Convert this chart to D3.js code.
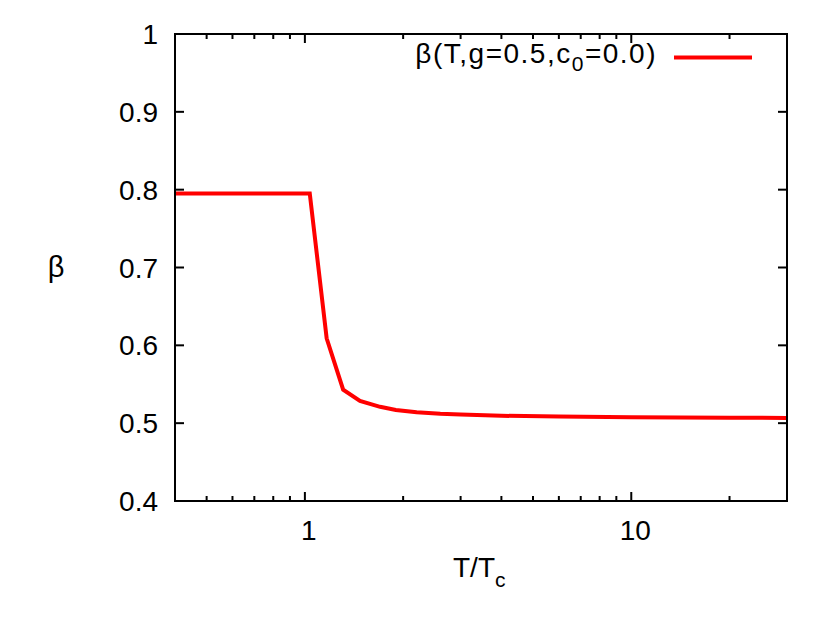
<!DOCTYPE html>
<html>
<head>
<meta charset="utf-8">
<script src="https://cdn.jsdelivr.net/npm/d3@7"></script>
<style>
  body { margin: 0; background: #fff; }
  svg text { font-family: "Liberation Sans", Arial, sans-serif; fill: #000; }
</style>
</head>
<body>
<svg id="chart" width="830" height="623"></svg>
<script>
// values
var tValues    = [0.4, 1.035, 1.166, 1.31, 1.475, 1.70, 1.9, 2.2, 2.6, 3.0, 4.0, 6.0, 10.0, 20.0, 30.0];
var betaValues = [0.795, 0.795, 0.609, 0.543, 0.5285, 0.521, 0.517, 0.514, 0.512, 0.511, 0.5095, 0.5085, 0.5077, 0.507, 0.5067];
var yTicks = [0.4, 0.5, 0.6, 0.7, 0.8, 0.9, 1];
var xMajor = [1, 10];
var xMinor = [0.4, 0.5, 0.6, 0.7, 0.8, 0.9, 2, 3, 4, 5, 6, 7, 8, 9, 20, 30];

const margin = {left: 175, top: 34, right: 787, bottom: 501};
const svg = d3.select("#chart");

const x = d3.scaleLog().domain([0.4, 30]).range([margin.left, margin.right]);
const y = d3.scaleLinear().domain([0.4, 1]).range([margin.bottom, margin.top]);

// curve
const line = d3.line().x((d, i) => x(tValues[i])).y(d => y(d));
svg.append("path")
    .datum(betaValues)
    .attr("d", line)
    .attr("fill", "none")
    .attr("stroke", "#ff0000")
    .attr("stroke-width", 4)
    .attr("stroke-linejoin", "miter");

// ticks (inward, mirrored)
const tk = svg.append("g").attr("stroke", "#000").attr("stroke-width", 2);
yTicks.forEach(v => {
    tk.append("line").attr("x1", margin.left).attr("x2", margin.left + 9).attr("y1", y(v)).attr("y2", y(v));
    tk.append("line").attr("x1", margin.right).attr("x2", margin.right - 9).attr("y1", y(v)).attr("y2", y(v));
});
xMajor.forEach(v => {
    tk.append("line").attr("x1", x(v)).attr("x2", x(v)).attr("y1", margin.bottom).attr("y2", margin.bottom - 9);
    tk.append("line").attr("x1", x(v)).attr("x2", x(v)).attr("y1", margin.top).attr("y2", margin.top + 9);
});
xMinor.filter(v => v > 0.4 && v < 30).forEach(v => {
    tk.append("line").attr("x1", x(v)).attr("x2", x(v)).attr("y1", margin.bottom).attr("y2", margin.bottom - 5);
    tk.append("line").attr("x1", x(v)).attr("x2", x(v)).attr("y1", margin.top).attr("y2", margin.top + 5);
});

// frame
svg.append("rect")
    .attr("x", margin.left).attr("y", margin.top)
    .attr("width", margin.right - margin.left).attr("height", margin.bottom - margin.top)
    .attr("fill", "none").attr("stroke", "#000").attr("stroke-width", 2);

// tick labels
svg.selectAll(".ylab").data(yTicks).enter().append("text")
    .attr("class", "ylab")
    .attr("x", 158).attr("y", d => y(d)).attr("dy", "0.36em")
    .attr("text-anchor", "end").attr("font-size", 28)
    .text(d => d === 1 ? "1" : d3.format(".1f")(d));

svg.selectAll(".xlab").data(xMajor).enter().append("text")
    .attr("class", "xlab")
    .attr("x", d => x(d) + 4).attr("y", 540)
    .attr("text-anchor", "middle").attr("font-size", 28)
    .text(d => d);

// axis titles
const xt = svg.append("text").attr("x", 453).attr("y", 577).attr("font-size", 28);
xt.append("tspan").text("T/T");
xt.append("tspan").attr("dy", 10).attr("font-size", 21).text("c");

svg.append("text").attr("x", 56).attr("y", 277).attr("text-anchor", "middle")
    .attr("font-size", 29).attr("font-family", "DejaVu Serif, serif").text("β");

// legend
const lg = svg.append("text").attr("x", 657).attr("y", 63).attr("text-anchor", "end")
    .attr("font-size", 28).attr("letter-spacing", 1.5);
lg.append("tspan").text("β(T,g=0.5,c");
lg.append("tspan").attr("dy", 8).attr("font-size", 21).text("0");
lg.append("tspan").attr("dy", -8).text("=0.0)");
svg.append("line").attr("x1", 674).attr("x2", 752).attr("y1", 57.5).attr("y2", 57.5)
    .attr("stroke", "#ff0000").attr("stroke-width", 4);
</script>
</body>
</html>
